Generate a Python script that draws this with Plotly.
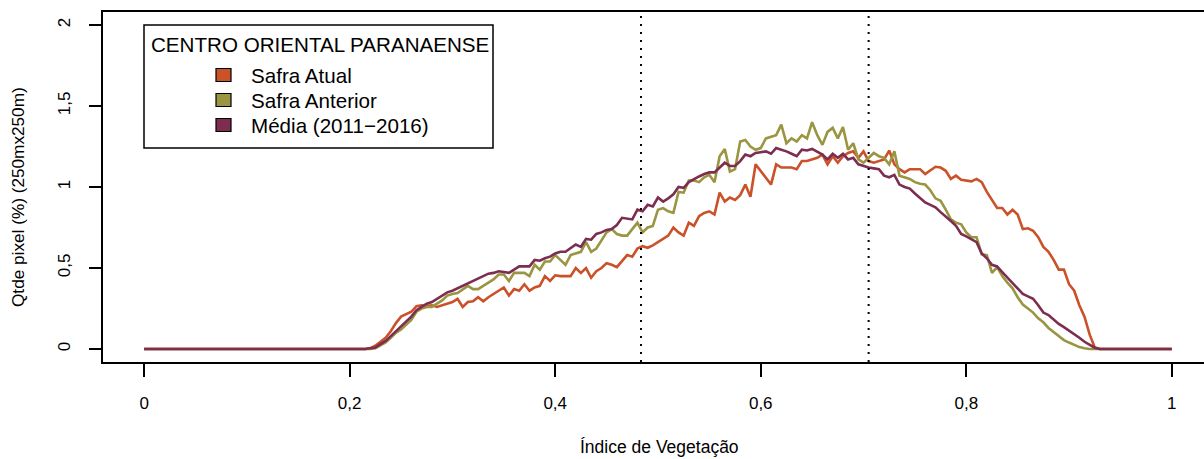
import numpy as np
import plotly.graph_objects as go

# Vegetation-index bins (flat zero stretch, detailed active range, flat tail)
vi_head = [0.0, 0.05, 0.10, 0.15, 0.20, 0.21]
vi_mid = list(np.round(np.arange(0.215, 0.9301, 0.005), 3))
vi_tail = [0.95, 1.0]

head_atual = [0, 0, 0, 0.002, 0.003, 0.003]
head_anterior = [0, 0, 0, 0.001, 0.002, 0.002]
head_media = [0, 0, 0, 0.002, 0.003, 0.004]

mid_atual = [
    0.0, 0.005, 0.02, 0.045, 0.07, 0.11, 0.16, 0.20, 0.215, 0.23,
    0.265, 0.27, 0.265, 0.27, 0.26, 0.27, 0.28, 0.29, 0.31, 0.26,
    0.29, 0.295, 0.32, 0.295, 0.32, 0.34, 0.36, 0.38, 0.33, 0.37,
    0.36, 0.40, 0.36, 0.38, 0.39, 0.45, 0.42, 0.455, 0.45, 0.45,
    0.45, 0.50, 0.47, 0.50, 0.44, 0.48, 0.50, 0.53, 0.52, 0.505,
    0.54, 0.58, 0.57, 0.62, 0.635, 0.625, 0.64, 0.66, 0.68, 0.70,
    0.75, 0.72, 0.70, 0.78, 0.76, 0.82, 0.84, 0.85, 0.83, 0.965,
    0.91, 0.935, 0.92, 0.95, 1.015, 0.94, 1.14, 1.10, 1.06, 1.015,
    1.14, 1.12, 1.12, 1.12, 1.11, 1.16, 1.16, 1.17, 1.18, 1.20,
    1.14, 1.19, 1.15, 1.19, 1.21, 1.22, 1.18, 1.22, 1.16, 1.15,
    1.16, 1.17, 1.225, 1.14, 1.11, 1.09, 1.11, 1.11, 1.11, 1.08,
    1.10, 1.125, 1.12, 1.10, 1.05, 1.07, 1.045, 1.04, 1.035, 1.05,
    1.03, 0.97, 0.92, 0.87, 0.87, 0.83, 0.86, 0.83, 0.74, 0.745,
    0.73, 0.69, 0.63, 0.60, 0.55, 0.49, 0.49, 0.40, 0.36, 0.27,
    0.20, 0.09, 0.01, 0.0,
]
mid_anterior = [
    0.0, 0.0, 0.005, 0.02, 0.04, 0.07, 0.10, 0.12, 0.15, 0.18,
    0.23, 0.25, 0.26, 0.26, 0.28, 0.30, 0.33, 0.34, 0.345, 0.37,
    0.39, 0.37, 0.37, 0.39, 0.41, 0.43, 0.46, 0.46, 0.42, 0.47,
    0.47, 0.47, 0.45, 0.52, 0.49, 0.54, 0.54, 0.58, 0.55, 0.52,
    0.58, 0.59, 0.60, 0.66, 0.60, 0.62, 0.67, 0.72, 0.74, 0.71,
    0.70, 0.70, 0.74, 0.78, 0.72, 0.75, 0.76, 0.86, 0.87, 0.85,
    0.84, 0.97, 0.965, 1.04, 1.04, 1.03, 1.06, 1.075, 1.03, 1.19,
    1.235, 1.095, 1.11, 1.28, 1.29, 1.25, 1.23, 1.24, 1.30, 1.31,
    1.32, 1.385, 1.27, 1.30, 1.28, 1.32, 1.30, 1.40, 1.32, 1.26,
    1.34, 1.365, 1.30, 1.37, 1.23, 1.27, 1.17, 1.15, 1.18, 1.21,
    1.19, 1.18, 1.14, 1.22, 1.07, 1.06, 1.05, 1.03, 1.02, 1.015,
    0.98, 0.93, 0.915, 0.86, 0.80, 0.78, 0.77, 0.72, 0.69, 0.69,
    0.585, 0.58, 0.47, 0.505, 0.45, 0.41, 0.375, 0.32, 0.275, 0.25,
    0.225, 0.19, 0.165, 0.13, 0.105, 0.08, 0.055, 0.04, 0.025, 0.012,
    0.005, 0.0, 0.0, 0.0,
]
mid_media = [
    0.0, 0.005, 0.01, 0.03, 0.05, 0.08, 0.11, 0.14, 0.17, 0.20,
    0.24, 0.26, 0.28, 0.29, 0.31, 0.33, 0.35, 0.36, 0.375, 0.39,
    0.40, 0.42, 0.435, 0.45, 0.465, 0.47, 0.48, 0.475, 0.47, 0.49,
    0.51, 0.51, 0.51, 0.55, 0.545, 0.56, 0.57, 0.59, 0.60, 0.60,
    0.62, 0.645, 0.63, 0.68, 0.675, 0.71, 0.72, 0.735, 0.74, 0.765,
    0.81, 0.805, 0.80, 0.86, 0.85, 0.89, 0.88, 0.935, 0.91, 0.93,
    0.955, 1.00, 0.995, 1.03, 1.05, 1.065, 1.08, 1.09, 1.09, 1.12,
    1.15, 1.13, 1.13, 1.16, 1.20, 1.19, 1.21, 1.215, 1.22, 1.205,
    1.24, 1.23, 1.22, 1.205, 1.19, 1.23, 1.225, 1.235, 1.22, 1.20,
    1.17, 1.205, 1.18, 1.205, 1.17, 1.18, 1.14, 1.13, 1.12, 1.115,
    1.11, 1.07, 1.06, 1.075, 1.015, 1.00, 0.99, 0.96, 0.935, 0.905,
    0.89, 0.875, 0.845, 0.82, 0.79, 0.76, 0.71, 0.695, 0.68, 0.66,
    0.59, 0.56, 0.52, 0.51, 0.475, 0.44, 0.41, 0.37, 0.34, 0.325,
    0.31, 0.27, 0.225, 0.21, 0.18, 0.155, 0.135, 0.115, 0.09, 0.07,
    0.045, 0.025, 0.008, 0.0,
]
tail_zero = [0.0, 0.0]

vi = vi_head + vi_mid + vi_tail
safra_atual = head_atual + mid_atual + tail_zero
safra_anterior = head_anterior + mid_anterior + tail_zero
media = head_media + mid_media + tail_zero

series_names = ["Safra Atual", "Safra Anterior", "Média (2011−2016)"]
series_colors = ["#CA5128", "#9A9541", "#7D2D4F"]
cut_lines = [0.4835, 0.705]

x_ticks = [0, 0.2, 0.4, 0.6, 0.8, 1.0]
x_ticktext = ["0", "0,2", "0,4", "0,6", "0,8", "1"]
y_ticks = [0, 0.5, 1.0, 1.5, 2.0]
y_ticktext = ["0", "0,5", "1", "1,5", "2"]

W, H = 1204, 459
L, R, T, B = 103, 0, 12, 97
FONT = "Liberation Sans, Arial, Helvetica, sans-serif"


def px(xp):
    return (xp - L) / (W - L - R)


def py(yp):
    return (H - B - yp) / (H - T - B)


fig = go.Figure()
# current season first, then previous season, the average drawn on top
for vals, name, col in [(safra_atual, series_names[0], series_colors[0]),
                        (safra_anterior, series_names[1], series_colors[1]),
                        (media, series_names[2], series_colors[2])]:
    fig.add_trace(go.Scatter(x=vi, y=vals, mode="lines", name=name,
                             line=dict(color=col, width=2.6),
                             showlegend=False, hoverinfo="x+y+name"))

shapes = []
for v in cut_lines:
    shapes.append(dict(type="line", xref="x", yref="paper", x0=v, x1=v, y0=0, y1=1,
                       line=dict(color="black", width=2, dash="2px,6px")))

# legend panel
shapes.append(dict(type="rect", xref="paper", yref="paper",
                   x0=px(144), x1=px(493), y0=py(148), y1=py(25),
                   line=dict(color="black", width=1.5), fillcolor="white", layer="above"))
annotations = [dict(text="CENTRO ORIENTAL PARANAENSE", xref="paper", yref="paper",
                    x=px(149), y=py(44), xanchor="left", yanchor="middle",
                    showarrow=False, font=dict(family=FONT, size=20.6, color="black"))]
for i, (name, col) in enumerate(zip(series_names, series_colors)):
    yc = 75 + 25 * i
    shapes.append(dict(type="rect", xref="paper", yref="paper",
                       x0=px(216), x1=px(231), y0=py(yc + 6.5), y1=py(yc - 6.5),
                       line=dict(color="black", width=1.2), fillcolor=col, layer="above"))
    annotations.append(dict(text=name, xref="paper", yref="paper",
                            x=px(249), y=py(yc), xanchor="left", yanchor="middle",
                            showarrow=False, font=dict(family=FONT, size=20.6, color="black")))

annotations.append(dict(text="Índice de Vegetação", xref="paper", yref="paper",
                        x=px(659), y=py(447), xanchor="center", yanchor="middle",
                        showarrow=False, font=dict(family=FONT, size=17.5, color="black")))
annotations.append(dict(text="Qtde pixel (%) (250mx250m)", xref="paper", yref="paper",
                        x=px(18), y=py(197), xanchor="center", yanchor="middle",
                        textangle=-90, showarrow=False,
                        font=dict(family=FONT, size=17.2, color="black")))

fig.update_layout(
    width=W, height=H,
    margin=dict(l=L, r=R, t=T, b=B, pad=0),
    paper_bgcolor="white", plot_bgcolor="white",
    font=dict(family=FONT, size=16, color="black"),
    shapes=shapes, annotations=annotations,
    showlegend=False,
)
fig.update_xaxes(range=[-0.04, 1.0313], showgrid=False, zeroline=False,
                 showline=True, mirror=True, linecolor="black", linewidth=1.5,
                 ticks="outside", ticklen=13, tickwidth=1.5, tickcolor="black",
                 tickvals=x_ticks, ticktext=x_ticktext, ticklabelstandoff=12,
                 tickfont=dict(size=17))
fig.update_yaxes(range=[-0.08, 2.08], showgrid=False, zeroline=False,
                 showline=True, mirror=False, linecolor="black", linewidth=1.5,
                 ticks="outside", ticklen=12, tickwidth=1.5, tickcolor="black",
                 tickvals=y_ticks, ticktext=y_ticktext, tickangle=-90,
                 ticklabelstandoff=12, tickfont=dict(size=17))

fig.write_html("out.html")
